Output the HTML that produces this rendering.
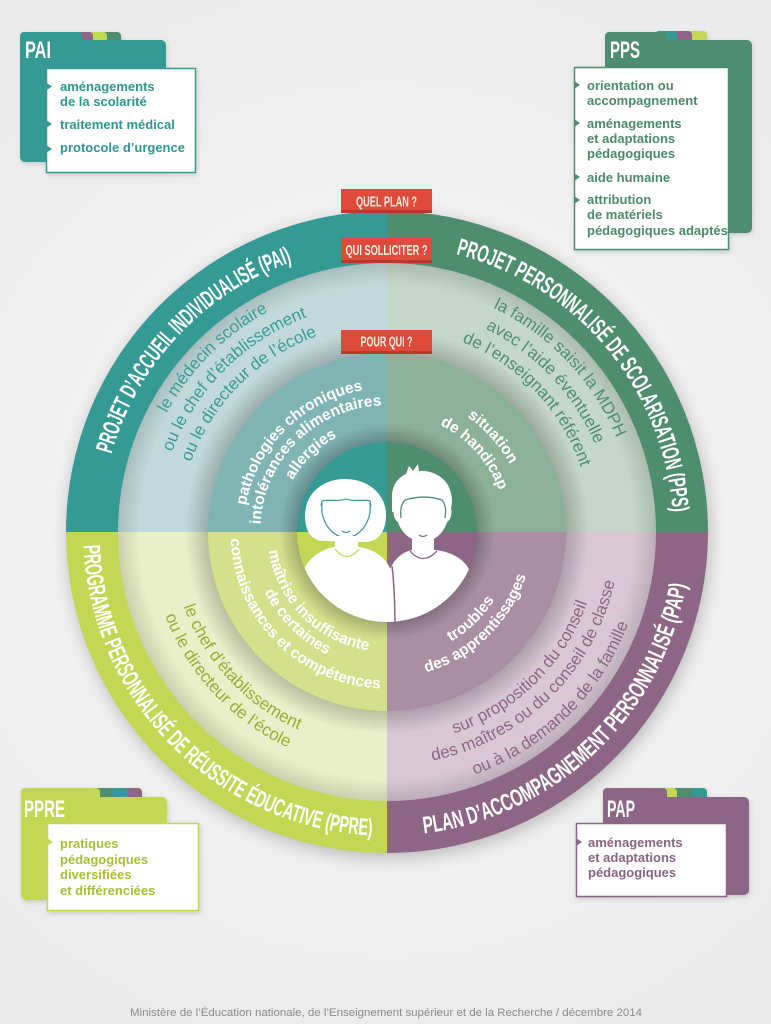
<!DOCTYPE html>
<html><head><meta charset="utf-8">
<style>
html,body{margin:0;padding:0;background:#efefef;}
svg{display:block;}
.t{font-family:"Liberation Sans",sans-serif;}
.ttl{font-family:"Liberation Sans Narrow","Liberation Sans",sans-serif;font-weight:bold;fill:#fff;font-size:24px;}
.mid{font-family:"Liberation Sans",sans-serif;font-size:17px;}
.inn{font-family:"Liberation Sans",sans-serif;font-size:15.5px;font-weight:bold;fill:#fff;}
.li{font-family:"Liberation Sans",sans-serif;font-size:13px;font-weight:bold;}
.hd{font-family:"Liberation Sans Narrow","Liberation Sans",sans-serif;font-size:24px;font-weight:bold;fill:#fff;}
.lab{font-family:"Liberation Sans Narrow","Liberation Sans",sans-serif;font-size:15px;font-weight:bold;fill:#fdeee0;}
</style></head>
<body>
<svg width="771" height="1024" viewBox="0 0 771 1024" xmlns="http://www.w3.org/2000/svg">
<defs>
<radialGradient id="bgG" cx="386" cy="520" r="560" gradientUnits="userSpaceOnUse">
<stop offset="0" stop-color="#f6f6f6"/><stop offset="1" stop-color="#ebebeb"/></radialGradient>
<filter id="blur" x="-20%" y="-20%" width="140%" height="140%"><feGaussianBlur stdDeviation="8"/></filter>
<filter id="ds" x="-10%" y="-10%" width="130%" height="130%"><feDropShadow dx="1" dy="2" stdDeviation="2" flood-color="#000" flood-opacity="0.15"/></filter>
<radialGradient id="shOut" gradientUnits="userSpaceOnUse" cx="387" cy="532" r="269">
<stop offset="0.92" stop-color="#000" stop-opacity="0"/><stop offset="1" stop-color="#000" stop-opacity="0.13"/></radialGradient>
<radialGradient id="shIn" gradientUnits="userSpaceOnUse" cx="387" cy="532" r="202">
<stop offset="0.886" stop-color="#000" stop-opacity="0.2"/><stop offset="1" stop-color="#000" stop-opacity="0"/></radialGradient>
<radialGradient id="shCore" gradientUnits="userSpaceOnUse" cx="387" cy="532" r="108">
<stop offset="0.833" stop-color="#000" stop-opacity="0.22"/><stop offset="1" stop-color="#000" stop-opacity="0"/></radialGradient>
<clipPath id="coreClip"><circle cx="387" cy="532" r="90"/></clipPath>

<path id="tPAI" d="M186.9,737.7 A287,287 0 0 1 579.8,319.4"/>
<path id="tPPS" d="M206.4,309.0 A287,287 0 0 1 575.3,748.6"/>
<path id="tPPRE" d="M168.9,320.2 A304,304 0 0 0 597.6,751.2"/>
<path id="tPAP" d="M170.2,745.1 A304,304 0 0 0 611.1,326.6"/>

<path id="m1a" d="M206.5,706.4 A251,251 0 0 1 561.4,351.5"/>
<path id="m1b" d="M221.6,691.8 A230,230 0 0 1 546.8,366.6"/>
<path id="m1c" d="M236.7,677.2 A209,209 0 0 1 532.2,381.7"/>
<path id="m2a" d="M219.5,349.1 A248,248 0 0 1 560.8,708.9"/>
<path id="m2b" d="M234.3,365.4 A226,226 0 0 1 545.4,693.2"/>
<path id="m2c" d="M248.5,380.9 A205,205 0 0 1 530.7,678.2"/>
<path id="m3a" d="M236.9,376.6 A216,216 0 0 0 531.5,692.5"/>
<path id="m3b" d="M221.7,360.8 A238,238 0 0 0 546.2,708.9"/>
<path id="m4a" d="M237.7,683.9 A213,213 0 0 0 541.5,385.4"/>
<path id="m4b" d="M223.7,698.2 A233,233 0 0 0 556.0,371.6"/>
<path id="m4c" d="M209.0,713.2 A254,254 0 0 0 571.3,357.1"/>

<path id="i1a" d="M282.5,631.1 A144,144 0 0 1 487.9,429.3"/>
<path id="i1b" d="M296.3,618.1 A125,125 0 0 1 474.6,442.8"/>
<path id="i1c" d="M310.1,605.0 A106,106 0 0 1 461.3,456.4"/>
<path id="i2a" d="M295.8,427.1 A139,139 0 0 1 481.8,633.7"/>
<path id="i2b" d="M308.9,442.2 A119,119 0 0 1 468.2,619.0"/>
<path id="i3a" d="M302.1,450.0 A118,118 0 0 0 469.0,616.9"/>
<path id="i3b" d="M288.5,436.8 A137,137 0 0 0 482.2,630.5"/>
<path id="i3c" d="M274.8,423.6 A156,156 0 0 0 495.4,644.2"/>
<path id="i4a" d="M297.2,621.8 A127,127 0 0 0 479.9,445.4"/>
<path id="i4b" d="M283.8,635.2 A146,146 0 0 0 493.8,432.4"/>
</defs>

<rect x="0" y="0" width="771" height="1024" fill="url(#bgG)"/>

<circle cx="389" cy="537" r="321" fill="#000" opacity="0.22" filter="url(#blur)"/>

<path d="M387,532 L66,532 A321,321 0 0 1 387,211 Z" fill="#359a93"/>
<path d="M387,532 L387,211 A321,321 0 0 1 708,532 Z" fill="#4f8d6f"/>
<path d="M387,532 L708,532 A321,321 0 0 1 387,853 Z" fill="#8d6585"/>
<path d="M387,532 L387,853 A321,321 0 0 1 66,532 Z" fill="#c3d754"/>

<path d="M387,532 L118,532 A269,269 0 0 1 387,263 Z" fill="#c1d9da"/>
<path d="M387,532 L387,263 A269,269 0 0 1 656,532 Z" fill="#c5d7c8"/>
<path d="M387,532 L656,532 A269,269 0 0 1 387,801 Z" fill="#d8c8d4"/>
<path d="M387,532 L387,801 A269,269 0 0 1 118,532 Z" fill="#e9efc8"/>
<circle cx="387" cy="532" r="269" fill="url(#shOut)"/>
<circle cx="387" cy="532" r="202" fill="url(#shIn)"/>

<path d="M387,532 L208,532 A179,179 0 0 1 387,353 Z" fill="#80b4b3"/>
<path d="M387,532 L387,353 A179,179 0 0 1 566,532 Z" fill="#8db098"/>
<path d="M387,532 L566,532 A179,179 0 0 1 387,711 Z" fill="#a98fa4"/>
<path d="M387,532 L387,711 A179,179 0 0 1 208,532 Z" fill="#d5e08d"/>
<circle cx="387" cy="532" r="108" fill="url(#shCore)"/>

<path d="M387,532 L297,532 A90,90 0 0 1 387,442 Z" fill="#359a93"/>
<path d="M387,532 L387,442 A90,90 0 0 1 477,532 Z" fill="#4f8d6f"/>
<path d="M387,532 L477,532 A90,90 0 0 1 387,622 Z" fill="#8d6585"/>
<path d="M387,532 L387,622 A90,90 0 0 1 297,532 Z" fill="#c3d754"/>

<g clip-path="url(#coreClip)">
  <path d="M392,500 C391,487 397,478 406,474 L409,466 L413,471 L418,464 L419,471 C432,470 446,477 450,490 C453,498 452,506 450,512 L392,512 Z" fill="#fff"/>
  <path d="M395,505 C392,512 394,520 398,522 C401,532 410,541 423,542 C436,541 444,532 447,522 C451,520 453,512 450,505 Z" fill="#fff"/>
  <path d="M401,518 C400,510 401,504 405,500 C418,496 430,496 442,500 C446,505 446,511 445,518" fill="none" stroke="#4f8d6f" stroke-width="1.3"/>
  <path d="M419,535 Q423,538 427,535" fill="none" stroke="#8d6585" stroke-width="1.2"/>
  <rect x="412" y="537" width="22" height="15" fill="#fff"/>
  <path d="M388,630 L388,575 C392,560 402,552 412,550 L436,550 C452,552 466,560 470,572 L478,630 Z" fill="#fff"/>
  <path d="M410,551 Q423,566 437,551" fill="none" stroke="#8d6585" stroke-width="1.3"/>
  <path d="M325,541 C312,541 305,532 305,516 C305,494 322,479 345,479 C368,479 386,494 386,515 C386,531 379,541 367,542 Z" fill="#fff"/>
  <path d="M322,503 C320,520 330,536 346,538 C362,536 372,520 370,503" fill="none" stroke="#359a93" stroke-width="1.2"/>
  <path d="M321,506 L322,501 C330,499 338,502 346,499 C354,502 362,499 370,501 L371,506" fill="none" stroke="#359a93" stroke-width="1.2"/>
  <path d="M342,531 Q346,534 350,531" fill="none" stroke="#359a93" stroke-width="1.1"/>
  <rect x="335" y="536" width="23" height="14" fill="#fff"/>
  <path d="M299,630 L301,580 C303,562 318,550 334,547 L358,547 C376,549 390,560 393,578 L396,630 Z" fill="#fff"/>
  <path d="M392,566 C394,582 395,600 395,630" fill="none" stroke="#8d6585" stroke-width="1.5"/>
  <path d="M335,549 Q347,564 359,549" fill="none" stroke="#c3d754" stroke-width="1.3"/>
</g>

<text class="ttl" text-anchor="middle"><textPath href="#tPAI" startOffset="50%" textLength="274" lengthAdjust="spacingAndGlyphs">PROJET D’ACCUEIL INDIVIDUALISÉ (PAI)</textPath></text>
<text class="ttl" text-anchor="middle"><textPath href="#tPPS" startOffset="50%" textLength="360" lengthAdjust="spacingAndGlyphs">PROJET PERSONNALISÉ DE SCOLARISATION (PPS)</textPath></text>
<text class="ttl" text-anchor="middle"><textPath href="#tPPRE" startOffset="50%" textLength="449" lengthAdjust="spacingAndGlyphs">PROGRAMME PERSONNALISÉ DE RÉUSSITE ÉDUCATIVE (PPRE)</textPath></text>
<text class="ttl" text-anchor="middle"><textPath href="#tPAP" startOffset="50%" textLength="387" lengthAdjust="spacingAndGlyphs">PLAN D’ACCOMPAGNEMENT PERSONNALISÉ (PAP)</textPath></text>

<g class="mid" fill="#3a9c95" text-anchor="middle">
<text><textPath href="#m1a" startOffset="50%">le médecin scolaire</textPath></text>
<text><textPath href="#m1b" startOffset="50%">ou le chef d’établissement</textPath></text>
<text><textPath href="#m1c" startOffset="50%">ou le directeur de l’école</textPath></text>
</g>
<g class="mid" fill="#4f8d6f" text-anchor="middle">
<text><textPath href="#m2a" startOffset="50%">la famille saisit la MDPH</textPath></text>
<text><textPath href="#m2b" startOffset="50%">avec l’aide éventuelle</textPath></text>
<text><textPath href="#m2c" startOffset="50%">de l’enseignant référent</textPath></text>
</g>
<g class="mid" fill="#97ad34" text-anchor="middle">
<text><textPath href="#m3a" startOffset="50%">le chef d’établissement</textPath></text>
<text><textPath href="#m3b" startOffset="50%">ou le directeur de l’école</textPath></text>
</g>
<g class="mid" fill="#8d6585" text-anchor="middle">
<text><textPath href="#m4a" startOffset="50%">sur proposition du conseil</textPath></text>
<text><textPath href="#m4b" startOffset="50%">des maîtres ou du conseil de classe</textPath></text>
<text><textPath href="#m4c" startOffset="50%">ou à la demande de la famille</textPath></text>
</g>

<g class="inn" text-anchor="middle">
<text><textPath href="#i1a" startOffset="50%">pathologies chroniques</textPath></text>
<text><textPath href="#i1b" startOffset="50%">intolérances alimentaires</textPath></text>
<text><textPath href="#i1c" startOffset="50%">allergies</textPath></text>
<text><textPath href="#i2a" startOffset="50%">situation</textPath></text>
<text><textPath href="#i2b" startOffset="50%">de handicap</textPath></text>
<text><textPath href="#i3a" startOffset="50%">maîtrise insuffisante</textPath></text>
<text><textPath href="#i3b" startOffset="50%">de certaines</textPath></text>
<text><textPath href="#i3c" startOffset="50%">connaissances et compétences</textPath></text>
<text><textPath href="#i4a" startOffset="50%">troubles</textPath></text>
<text><textPath href="#i4b" startOffset="50%">des apprentissages</textPath></text>
</g>

<g>
<rect x="341" y="189" width="91" height="24" fill="#e04a3a"/>
<rect x="341" y="210" width="91" height="3" fill="#b9372b"/>
<text class="lab" x="386.5" y="206.5" text-anchor="middle" textLength="61" lengthAdjust="spacingAndGlyphs">QUEL PLAN ?</text>
<rect x="341" y="238" width="91" height="25" fill="#e04a3a"/>
<rect x="341" y="260" width="91" height="3" fill="#b9372b"/>
<text class="lab" x="386.5" y="255" text-anchor="middle" textLength="82" lengthAdjust="spacingAndGlyphs">QUI SOLLICITER ?</text>
<rect x="341" y="330" width="91" height="24" fill="#e04a3a"/>
<rect x="341" y="351" width="91" height="3" fill="#b9372b"/>
<text class="lab" x="386.5" y="346.5" text-anchor="middle" textLength="52" lengthAdjust="spacingAndGlyphs">POUR QUI ?</text>
</g>

<g filter="url(#ds)">
<rect x="100" y="32" width="21" height="16" rx="4" fill="#4f8d6f"/>
<rect x="86" y="32" width="21" height="16" rx="4" fill="#c3d754"/>
<rect x="70" y="32" width="23" height="16" rx="4" fill="#8d6585"/>
<rect x="20" y="32" width="62" height="30" rx="4" fill="#359a93"/>
<rect x="20" y="40" width="146" height="122" rx="5" fill="#359a93"/>
<rect x="46.5" y="68.5" width="149" height="104" fill="#fff" stroke="#359a93" stroke-width="1.5"/>
</g>
<text class="hd" x="25" y="58" textLength="26" lengthAdjust="spacingAndGlyphs">PAI</text>
<g fill="#359a93">
<polygon points="46,82.5 52,86.5 46,90.5"/><polygon points="46,120 52,124 46,128"/><polygon points="46,145 52,149 46,153"/>
</g>
<g class="li" fill="#2f968f">
<text x="60" y="91">aménagements</text>
<text x="60" y="106">de la scolarité</text>
<text x="60" y="129">traitement médical</text>
<text x="60" y="152">protocole d’urgence</text>
</g>

<g filter="url(#ds)">
<rect x="686" y="31" width="21" height="16" rx="4" fill="#c3d754"/>
<rect x="671" y="31" width="21" height="16" rx="4" fill="#8d6585"/>
<rect x="655" y="31" width="22" height="16" rx="4" fill="#359a93"/>
<rect x="605" y="32" width="62" height="30" rx="4" fill="#4f8d6f"/>
<rect x="605" y="40" width="147" height="193" rx="5" fill="#4f8d6f"/>
<rect x="574.5" y="67.5" width="154" height="182" fill="#fff" stroke="#4f8d6f" stroke-width="1.5"/>
</g>
<text class="hd" x="610" y="58" textLength="30" lengthAdjust="spacingAndGlyphs">PPS</text>
<g fill="#4f8d6f">
<polygon points="574,81 580,85 574,89"/><polygon points="574,119 580,123 574,127"/><polygon points="574,173 580,177 574,181"/><polygon points="574,196 580,200 574,204"/>
</g>
<g class="li" fill="#4a8a6b">
<text x="587" y="90">orientation ou</text>
<text x="587" y="105">accompagnement</text>
<text x="587" y="128">aménagements</text>
<text x="587" y="143">et adaptations</text>
<text x="587" y="158">pédagogiques</text>
<text x="587" y="182">aide humaine</text>
<text x="587" y="204">attribution</text>
<text x="587" y="219">de matériels</text>
<text x="587" y="235">pédagogiques adaptés</text>
</g>

<g filter="url(#ds)">
<rect x="121" y="788" width="21" height="16" rx="4" fill="#8d6585"/>
<rect x="107" y="788" width="21" height="16" rx="4" fill="#359a93"/>
<rect x="92" y="788" width="21" height="16" rx="4" fill="#4f8d6f"/>
<rect x="21" y="788" width="79" height="30" rx="4" fill="#c3d754"/>
<rect x="21" y="797" width="146" height="103" rx="5" fill="#c3d754"/>
<rect x="47.5" y="823.5" width="151" height="87" fill="#fff" stroke="#c3d754" stroke-width="1.5"/>
</g>
<text class="hd" x="24" y="817" textLength="41" lengthAdjust="spacingAndGlyphs">PPRE</text>
<polygon points="47,838 53,842 47,846" fill="#c3d754"/>
<g class="li" fill="#a6bf36">
<text x="60" y="848">pratiques</text>
<text x="60" y="864">pédagogiques</text>
<text x="60" y="879">diversifiées</text>
<text x="60" y="895">et différenciées</text>
</g>

<g filter="url(#ds)">
<rect x="686" y="788" width="21" height="16" rx="4" fill="#359a93"/>
<rect x="671" y="788" width="21" height="16" rx="4" fill="#4f8d6f"/>
<rect x="655" y="788" width="22" height="16" rx="4" fill="#c3d754"/>
<rect x="603" y="788" width="64" height="30" rx="4" fill="#8d6585"/>
<rect x="603" y="797" width="146" height="98" rx="5" fill="#8d6585"/>
<rect x="576.5" y="823.5" width="150" height="73" fill="#fff" stroke="#8d6585" stroke-width="1.5"/>
</g>
<text class="hd" x="607" y="817" textLength="28" lengthAdjust="spacingAndGlyphs">PAP</text>
<polygon points="576,838 582,842 576,846" fill="#8d6585"/>
<g class="li" fill="#8a6383">
<text x="588" y="847">aménagements</text>
<text x="588" y="862">et adaptations</text>
<text x="588" y="877">pédagogiques</text>
</g>

<text class="t" x="386" y="1016" text-anchor="middle" font-size="11" fill="#8a8a8a" textLength="512" lengthAdjust="spacingAndGlyphs">Ministère de l’Éducation nationale, de l’Enseignement supérieur et de la Recherche / décembre 2014</text>
</svg>
</body></html>
